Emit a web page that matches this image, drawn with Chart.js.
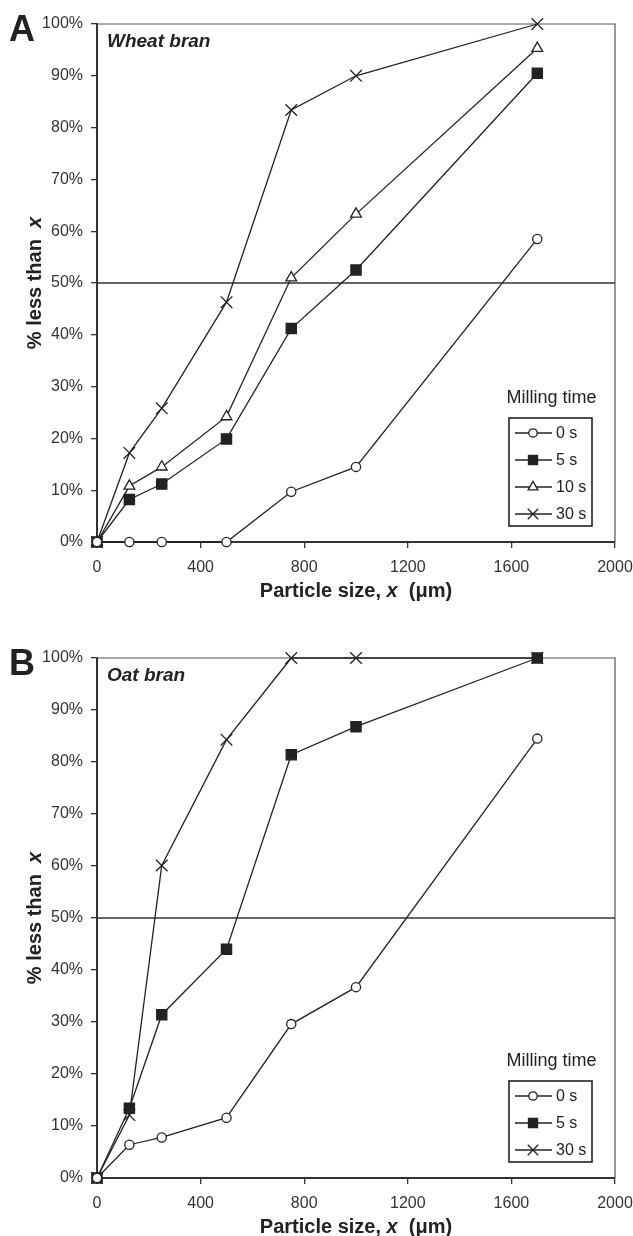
<!DOCTYPE html>
<html>
<head>
<meta charset="utf-8">
<script src="https://cdn.jsdelivr.net/npm/chart.js@4.4.0/dist/chart.umd.min.js"></script>
<style>
  html, body { margin: 0; padding: 0; background: #fff; }
  .panel { position: relative; width: 633px; height: 618px; }
</style>
</head>
<body>
<div class="panel"><canvas id="chartA" width="633" height="618"></canvas></div>
<div class="panel"><canvas id="chartB" width="633" height="618"></canvas></div>
<script>
/* ---------- data ---------- */
const particleSize = [0, 125, 250, 500, 750, 1000, 1700];   // µm

// Wheat bran, % less than x
const wheat0s  = [0, 0, 0, 0, 9.7, 14.5, 58.5];
const wheat5s  = [0, 8.2, 11.2, 19.9, 41.2, 52.5, 90.5];
const wheat10s = [0, 10.8, 14.5, 24.2, 51.0, 63.3, 95.3];
const wheat30s = [0, 17.2, 25.8, 46.3, 83.4, 90.0, 100];

// Oat bran, % less than x
const oat0s  = [0, 6.4, 7.8, 11.6, 29.6, 36.7, 84.5];
const oat5s  = [0, 13.4, 31.4, 44.0, 81.4, 86.8, 100];
const oat30s = [0, 12.1, 60.1, 84.3, 100, 100, 100];

const seriesLabels = ["0 s", "5 s", "10 s", "30 s"];
const xTickStep = 400;
const yTickStep = 10;
const refLine = 50;

/* ---------- styles ---------- */
const FONT = "'Liberation Sans', Arial, sans-serif";
const INK = "#222";

const markerStyles = {
  "0 s":  { pointStyle: "circle",   radius: 4.6, bg: "#fff", legendRadius: 4.2 },
  "5 s":  { pointStyle: "rect",     radius: 7.2, bg: INK,    legendRadius: 6.4 },
  "10 s": { pointStyle: "triangle", radius: 6.2, bg: "#fff", legendRadius: 5.6 },
  "30 s": { pointStyle: "crossRot", radius: 8.2, bg: INK,    legendRadius: 7.4 }
};

function makeDataset(label, values) {
  const s = markerStyles[label];
  return {
    label,
    data: particleSize.map((x, i) => ({ x, y: values[i] })),
    showLine: true,
    borderColor: INK,
    borderWidth: 1.3,
    pointStyle: s.pointStyle,
    pointRadius: s.radius,
    pointHoverRadius: s.radius,
    pointBackgroundColor: s.bg,
    pointBorderColor: INK,
    pointBorderWidth: 1.3,
    tension: 0,
    clip: false
  };
}

/* ---------- decorations: panel letter, names, titles, legend ---------- */
function drawMixed(ctx, parts, x, y, align) {
  // parts: [{text, italic}]
  const widths = parts.map(p => {
    ctx.font = (p.italic ? "italic " : "") + "bold 20px " + FONT;
    return ctx.measureText(p.text).width;
  });
  const total = widths.reduce((a, b) => a + b, 0);
  let cx = align === "center" ? x - total / 2 : x;
  ctx.textAlign = "left";
  parts.forEach((p, i) => {
    ctx.font = (p.italic ? "italic " : "") + "bold 20px " + FONT;
    ctx.fillText(p.text, cx, y);
    cx += widths[i];
  });
}

const decorPlugin = {
  id: "decor",
  beforeDatasetsDraw(chart, args, opts) {
    const { ctx, chartArea: a, scales } = chart;
    ctx.save();
    // top & right frame
    ctx.strokeStyle = "#555";
    ctx.lineWidth = 1.2;
    ctx.beginPath();
    ctx.moveTo(a.left, a.top);
    ctx.lineTo(a.right, a.top);
    ctx.lineTo(a.right, a.bottom);
    ctx.stroke();
    // 50 % reference line
    const yRef = scales.y.getPixelForValue(refLine);
    ctx.strokeStyle = "#333";
    ctx.lineWidth = 1.3;
    ctx.beginPath();
    ctx.moveTo(a.left, yRef);
    ctx.lineTo(a.right, yRef);
    ctx.stroke();
    ctx.restore();
  },
  afterDraw(chart, args, opts) {
    const { ctx, chartArea: a } = chart;
    ctx.save();
    ctx.fillStyle = INK;
    ctx.textBaseline = "alphabetic";

    // panel letter
    ctx.font = "bold 36px " + FONT;
    ctx.textAlign = "left";
    ctx.fillText(opts.letter, 9, a.top + 17);

    // bran name
    ctx.font = "italic bold 19px " + FONT;
    ctx.fillText(opts.name, a.left + 10, a.top + 23);

    // x title
    drawMixed(ctx, [
      { text: "Particle size, ", italic: false },
      { text: "x", italic: true },
      { text: "  (\u03bcm)", italic: false }
    ], (a.left + a.right) / 2, a.bottom + 55, "center");

    // y title (rotated)
    ctx.save();
    ctx.translate(41, (a.top + a.bottom) / 2);
    ctx.rotate(-Math.PI / 2);
    drawMixed(ctx, [
      { text: "% less than  ", italic: false },
      { text: "x", italic: true }
    ], 0, 0, "center");
    ctx.restore();

    // legend
    const items = chart.data.datasets;
    const boxW = 83;
    const boxH = 15 + (items.length - 1) * 27 + 12;
    const boxR = a.right - 23;
    const boxB = a.bottom - 16;
    const boxL = boxR - boxW;
    const boxT = boxB - boxH;

    ctx.font = "18px " + FONT;
    ctx.textAlign = "center";
    ctx.fillStyle = INK;
    ctx.fillText("Milling time", boxL + boxW / 2 + 1, boxT - 15);

    ctx.strokeStyle = INK;
    ctx.lineWidth = 1.6;
    ctx.strokeRect(boxL, boxT, boxW, boxH);

    ctx.font = "16px " + FONT;
    ctx.textAlign = "left";
    ctx.textBaseline = "middle";
    items.forEach((ds, i) => {
      const y = boxT + 15 + i * 27;
      const x0 = boxL + 6;
      ctx.strokeStyle = INK;
      ctx.lineWidth = 1.3;
      ctx.beginPath();
      ctx.moveTo(x0, y);
      ctx.lineTo(x0 + 37, y);
      ctx.stroke();
      const s = markerStyles[ds.label];
      ctx.fillStyle = s.bg;
      ctx.strokeStyle = INK;
      ctx.lineWidth = 1.3;
      Chart.helpers.drawPoint(ctx, {
        pointStyle: s.pointStyle,
        radius: s.legendRadius,
        rotation: 0,
        borderWidth: 1.3
      }, x0 + 18, y);
      ctx.fillStyle = INK;
      ctx.fillText(ds.label, x0 + 41, y + 1);
    });
    ctx.restore();
  }
};

/* ---------- chart builder ---------- */
function buildChart(canvasId, datasets, letter, name, padTop, xAxisHeight) {
  const ctx = document.getElementById(canvasId).getContext("2d");
  return new Chart(ctx, {
    type: "scatter",
    data: { datasets },
    plugins: [decorPlugin],
    options: {
      responsive: false,
      animation: false,
      events: [],
      layout: { padding: { left: 0, right: 18, top: padTop, bottom: 0 } },
      plugins: {
        legend: { display: false },
        tooltip: { enabled: false },
        decor: { letter, name }
      },
      scales: {
        x: {
          type: "linear",
          min: 0,
          max: 2000,
          afterFit(scale) {
            scale.height = xAxisHeight;
            scale.paddingRight = 0;
          },
          border: { display: true, color: "#333", width: 2 },
          grid: { drawOnChartArea: false, drawTicks: true, tickLength: 6, color: "#333", lineWidth: 1.3 },
          ticks: {
            stepSize: xTickStep,
            padding: 10,
            color: "#333",
            font: { family: FONT, size: 16 },
            maxRotation: 0,
            callback: v => String(v)
          }
        },
        y: {
          type: "linear",
          min: 0,
          max: 100,
          afterFit(scale) { scale.width = 97; },
          border: { display: true, color: "#333", width: 2 },
          grid: { drawOnChartArea: false, drawTicks: true, tickLength: 6, color: "#333", lineWidth: 1.3 },
          ticks: {
            stepSize: yTickStep,
            padding: 8,
            color: "#333",
            font: { family: FONT, size: 16 },
            callback: v => v + "%"
          }
        }
      }
    }
  });
}

buildChart("chartA", [
  makeDataset(seriesLabels[0], wheat0s),
  makeDataset(seriesLabels[1], wheat5s),
  makeDataset(seriesLabels[2], wheat10s),
  makeDataset(seriesLabels[3], wheat30s)
], "A", "Wheat bran", 24, 76);

buildChart("chartB", [
  makeDataset(seriesLabels[0], oat0s),
  makeDataset(seriesLabels[1], oat5s),
  makeDataset(seriesLabels[3], oat30s)
], "B", "Oat bran", 40, 58);
</script>
</body>
</html>
